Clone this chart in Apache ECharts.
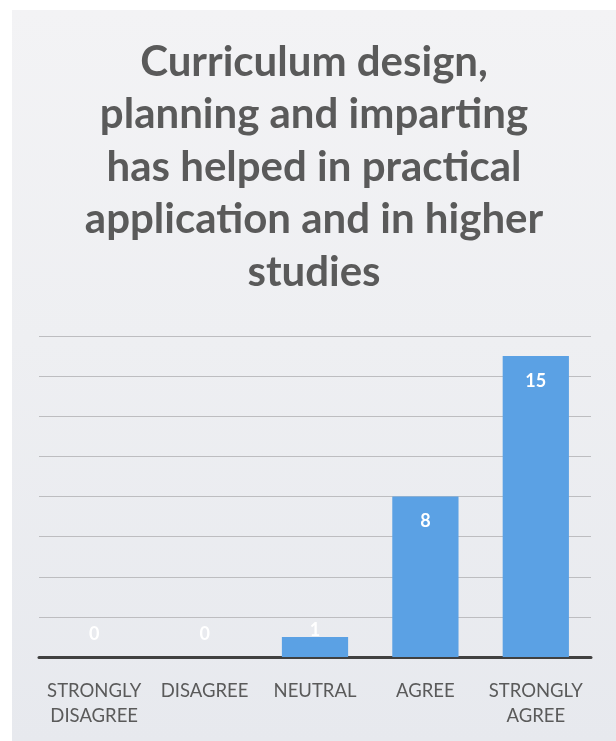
<!DOCTYPE html>
<html><head><meta charset="utf-8">
<script src="https://cdn.jsdelivr.net/npm/echarts@6/dist/echarts.min.js"></script>
<style>
html,body{margin:0;padding:0;background:#ffffff;width:616px;height:741px;overflow:hidden;}
#c{position:absolute;left:12px;top:10px;width:604px;height:731px;
background:linear-gradient(#f3f3f5 0%,#eeeff2 45%,#e7e9ee 100%);}
</style></head><body>
<div id="c"></div>
<script>
var titleText = 'Curriculum design,\nplanning and imparting\nhas helped in practical\napplication and in higher\nstudies';
var categories = ['STRONGLY\nDISAGREE', 'DISAGREE', 'NEUTRAL', 'AGREE', 'STRONGLY\nAGREE'];
var values = [0, 0, 1, 8, 15];

var chart = echarts.init(document.getElementById('c'));
var data = values.map(function (v) {
  var item = { value: v };
  if (v === 0) {
    item.label = { position: 'top', distance: 14 };
  } else if (v < 3) {
    item.label = { position: 'top', distance: -2 };
  }
  return item;
});
chart.setOption({
  animation: false,
  title: {
    text: titleText,
    left: 'center',
    top: 21,
    textStyle: { fontFamily: 'Lato', fontWeight: 'bold', fontSize: 42, lineHeight: 52.5, color: '#5a5a5a' }
  },
  grid: { left: 27, right: 25, top: 326, bottom: 84 },
  xAxis: {
    type: 'category',
    data: categories,
    axisLine: { show: true, lineStyle: { color: '#404040', width: 3 } },
    axisTick: { show: false },
    axisLabel: { color: '#5a5a5a', fontFamily: 'Lato', fontSize: 18.5, lineHeight: 25, margin: 22, interval: 0 }
  },
  yAxis: {
    type: 'value',
    min: 0, max: 16, interval: 2,
    axisLabel: { show: false },
    axisLine: { show: false },
    axisTick: { show: false },
    splitLine: { lineStyle: { color: '#bdbdc0', width: 1 } }
  },
  series: [{
    type: 'bar',
    data: data,
    barWidth: '60%',
    itemStyle: { color: '#5ba1e4' },
    label: {
      show: true,
      position: 'insideTop',
      distance: 16,
      color: '#ffffff',
      fontFamily: 'Lato',
      fontWeight: 'bold',
      fontSize: 18
    }
  }]
});
</script>
</body></html>
